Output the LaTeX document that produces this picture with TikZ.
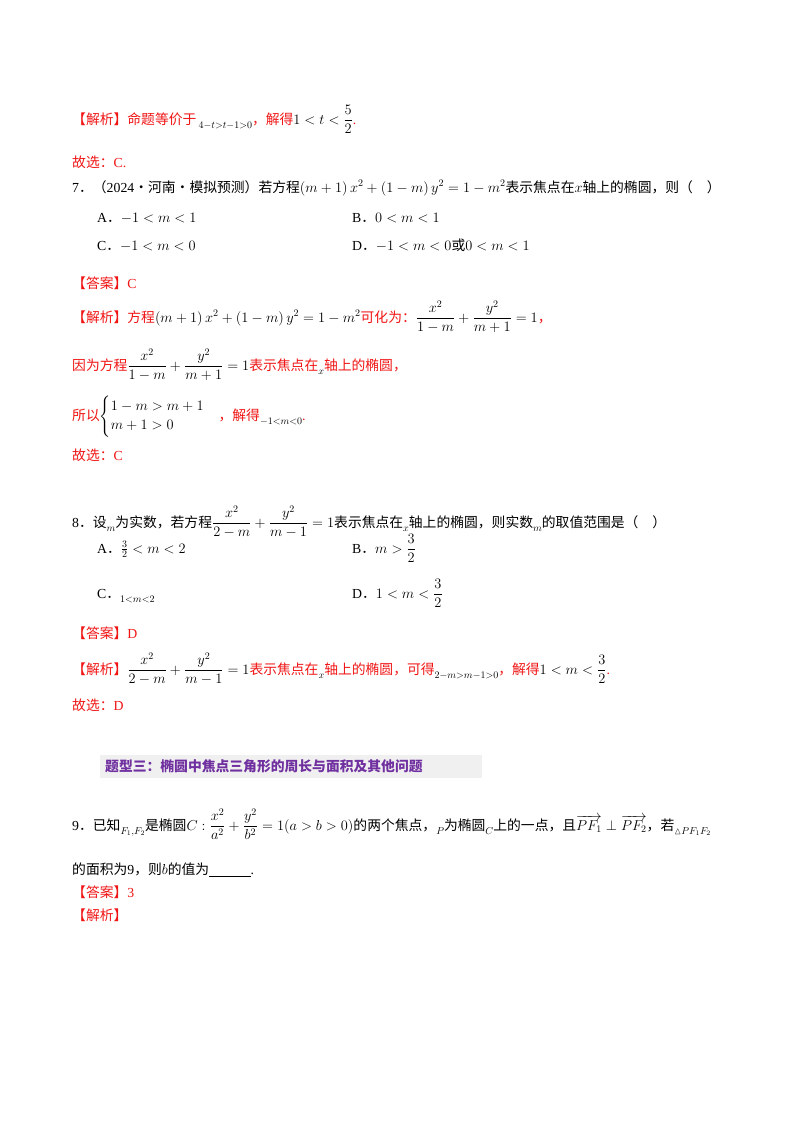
\documentclass[tikz,border=0pt]{standalone}
\usepackage{amsmath,amssymb}
\usepackage{fontspec}
\setmainfont{Liberation Serif}
\newfontfamily\cjk{Noto Sans CJK SC}
\definecolor{rd}{RGB}{240,20,20}
\definecolor{pp}{RGB}{112,48,160}
\newcommand{\zh}[1]{{\cjk #1}}
\newcommand{\lo}[1]{\raisebox{-4pt}{$\scriptstyle #1$}}
\begin{document}
\begin{tikzpicture}[x=1pt,y=-1pt,
  t/.style={anchor=base west,inner sep=0pt,font=\fontsize{13.8}{16}\selectfont},
  r/.style={t,text=rd}]
\useasboundingbox (0,0) rectangle (800,1132);
\node[r] (l1) at (72,124) {\zh{【解析】命题等价于}\,\textcolor{black}{\lo{4-t>t-1>0}}\zh{，解得}\textcolor{black}{$1<t<\dfrac{5}{2}$}.};
\node[r] (l2) at (72,167) {\zh{故选：}C.};
\node[t] (q7) at (72,192) {7\zh{．（}2024\zh{·河南·模拟预测）若方程}$\left(m+1\right)x^2+\left(1-m\right)y^2=1-m^2$\zh{表示焦点在}$x$\zh{轴上的椭圆，则（\quad）}};
\node[t] (a7) at (97,222) {A\zh{．}$-1<m<1$};
\node[t] (b7) at (352,222) {B\zh{．}$0<m<1$};
\node[t] (c7) at (97,250) {C\zh{．}$-1<m<0$};
\node[t] (d7) at (352,250) {D\zh{．}$-1<m<0$\zh{或}$0<m<1$};
\node[r] (ans7) at (72,288) {\zh{【答案】}C};
\node[r] (j7) at (72,322) {\zh{【解析】方程}\textcolor{black}{$\left(m+1\right)x^2+\left(1-m\right)y^2=1-m^2$}\zh{可化为：}\textcolor{black}{$\dfrac{x^2}{1-m}+\dfrac{y^2}{m+1}=1$}\zh{，}};
\node[r] (j7b) at (72,370) {\zh{因为方程}\textcolor{black}{$\dfrac{x^2}{1-m}+\dfrac{y^2}{m+1}=1$}\zh{表示焦点在}\textcolor{black}{\lo{x}}\zh{轴上的椭圆，}};
\node[r] (j7c) at (72,420) {\zh{所以}\textcolor{black}{$\begin{cases}1-m>m+1\\ m+1>0\end{cases}$}\zh{，解得}\textcolor{black}{\lo{-1<m<0}}.};
\node[r] (g7) at (72,460) {\zh{故选：}C};
\node[t] (q8) at (72,527) {8\zh{．设}\lo{m}\zh{为实数，若方程}$\dfrac{x^2}{2-m}+\dfrac{y^2}{m-1}=1$\zh{表示焦点在}\lo{x}\zh{轴上的椭圆，则实数}\lo{m}\zh{的取值范围是（\quad）}};
\node[t] (a8) at (97,553) {A\zh{．}$\frac{3}{2}<m<2$};
\node[t] (b8) at (352,553) {B\zh{．}$m>\dfrac{3}{2}$};
\node[t] (c8) at (97,598) {C\zh{．}\lo{1<m<2}};
\node[t] (d8) at (352,598) {D\zh{．}$1<m<\dfrac{3}{2}$};
\node[r] (ans8) at (72,638) {\zh{【答案】}D};
\node[r] (j8) at (72,674) {\zh{【解析】}\textcolor{black}{$\dfrac{x^2}{2-m}+\dfrac{y^2}{m-1}=1$}\zh{表示焦点在}\textcolor{black}{\lo{x}}\zh{轴上的椭圆，可得}\textcolor{black}{\lo{2-m>m-1>0}}\zh{，解得}\textcolor{black}{$1<m<\dfrac{3}{2}$}.};
\node[r] (g8) at (72,710) {\zh{故选：}D};
\fill[gray!12] (100,755) rectangle (482,778);
\node[t,text=pp,font=\fontsize{13.8}{16}\selectfont\cjk\bfseries] (h3) at (105,771) {题型三：椭圆中焦点三角形的周长与面积及其他问题};
\node[t] (q9) at (72,830) {9\zh{．已知}\lo{F_1,F_2}\zh{是椭圆}$C:\dfrac{x^2}{a^2}+\dfrac{y^2}{b^2}=1(a>b>0)$\zh{的两个焦点，}\lo{P}\zh{为椭圆}\lo{C}\zh{上的一点，且}$\overrightarrow{PF_1}\perp\overrightarrow{PF_2}$\zh{，若}\lo{\vartriangle PF_1F_2}};
\node[t] (q9b) at (72,874) {\zh{的面积为}9\zh{，则}$b$\zh{的值为}\underline{\hspace{3em}}.};
\node[r] (ans9) at (72,897) {\zh{【答案】}3};
\node[r] (j9) at (72,920) {\zh{【解析】}};
\end{tikzpicture}
\end{document}
